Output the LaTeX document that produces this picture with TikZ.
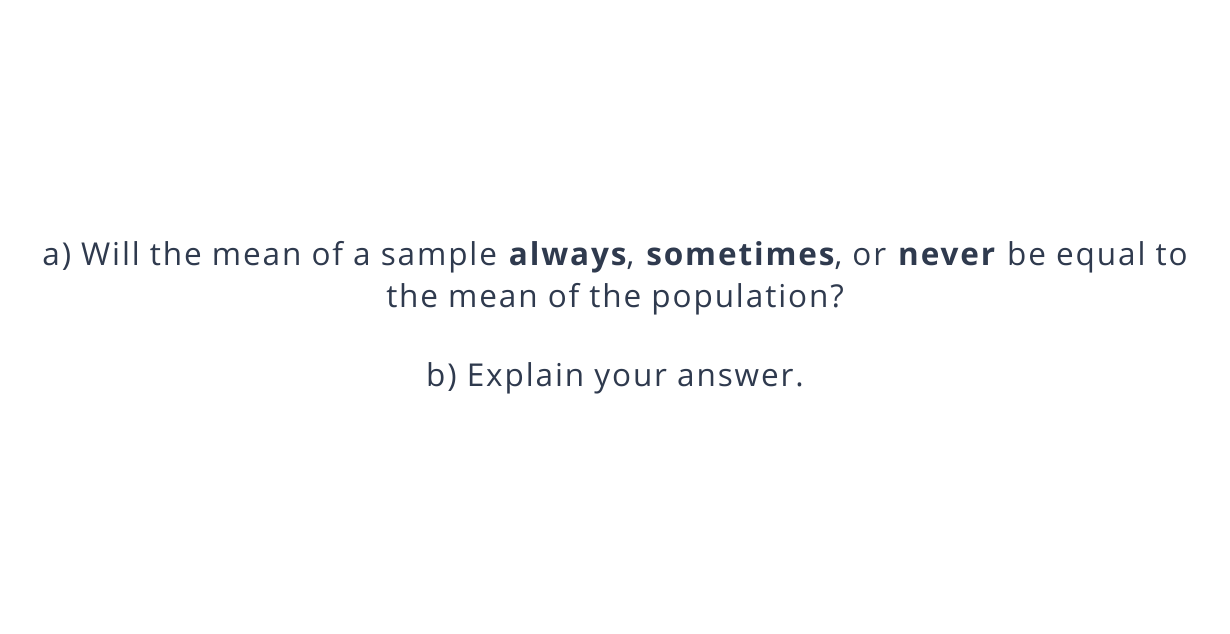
\documentclass[tikz,border=0pt]{standalone}
\usepackage{fontspec}
\setmainfont{Open Sans}[LetterSpace=6]
\definecolor{txt}{HTML}{2F3A4E}
\begin{document}
\begin{tikzpicture}[x=1pt,y=1pt,
  line/.style={anchor=base,inner sep=0pt,text=txt,font=\fontsize{31.5}{38}\selectfont}]
\useasboundingbox[fill=white] (0,0) rectangle (1230,633);
\node[line] (l1) at (615,368) {a) Will the mean of a sample \textbf{always}, \textbf{sometimes}, or \textbf{never} be equal to};
\node[line] (l2) at (615,326) {the mean of the population?};
\node[line] (l3) at (615,247) {b) Explain your answer.};
\end{tikzpicture}
\end{document}
